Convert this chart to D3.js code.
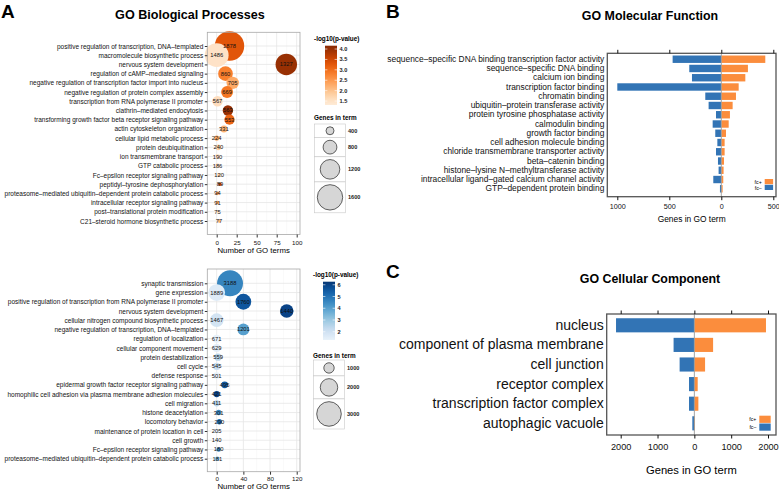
<!DOCTYPE html>
<html>
<head>
<meta charset="utf-8">
<script src="https://cdn.jsdelivr.net/npm/d3@7"></script>
<style>
body{margin:0;background:#fff;}
text{font-family:"Liberation Sans",Arial,Helvetica,sans-serif;}
</style>
</head>
<body>
<div id="canvas"></div>
<script>
// ---- panel A, upper: GO biological processes (orange) ----
var bpUpTerms = ["positive regulation of transcription, DNA–templated","macromolecule biosynthetic process","nervous system development","regulation of cAMP–mediated signaling","negative regulation of transcription factor import into nucleus","negative regulation of protein complex assembly","transcription from RNA polymerase II promoter","clathrin–mediated endocytosis","transforming growth factor beta receptor signaling pathway","actin cytoskeleton organization","cellular lipid metabolic process","protein deubiquitination","ion transmembrane transport","GTP catabolic process","Fc–epsilon receptor signaling pathway","peptidyl–tyrosine dephosphorylation","proteasome–mediated ubiquitin–dependent protein catabolic process","intracellular receptor signaling pathway","post–translational protein modification","C21–steroid hormone biosynthetic process"];
var bpUpNum = [16, 0, 87, 11, 20, 13, 1, 14, 16, 9, 0, 2, 1, 1, 3, 4, 1, 1, 1, 3];
var bpUpGenes = [1878, 1486, 1327, 860, 705, 669, 567, 563, 553, 331, 224, 240, 190, 186, 120, 89, 94, 91, 75, 77];
var bpUpP = [3.3, 1.5, 4.0, 2.8, 2.3, 2.9, 1.6, 4.0, 3.1, 2.2, 2.3, 1.8, 1.5, 1.5, 1.8, 3.5, 2.5, 2.4, 1.6, 2.2];
var bpUpTicks = [0, 25, 50, 75, 100];
var bpUpColorTicks = [1.5, 2.0, 2.5, 3.0, 3.5, 4.0];
var bpUpSizeKeys = [400, 800, 1200, 1600];

// ---- panel A, lower: GO biological processes (blue) ----
var bpDnTerms = ["synaptic transmission","gene expression","positive regulation of transcription from RNA polymerase II promoter","nervous system development","cellular nitrogen compound biosynthetic process","negative regulation of transcription, DNA–templated","regulation of localization","cellular component movement","protein destabilization","cell cycle","defense response","epidermal growth factor receptor signaling pathway","homophilic cell adhesion via plasma membrane adhesion molecules","cell migration","histone deacetylation","locomotory behavior","maintenance of protein location in cell","cell growth","Fc–epsilon receptor signaling pathway","proteasome–mediated ubiquitin–dependent protein catabolic process"];
var bpDnNum = [20, 0, 40, 105, 0, 40, 0, 0, 2, 0, 0, 12, 0, 0, 3, 4, 0, 0, 3, 1];
var bpDnGenes = [3188, 1889, 1760, 1440, 1467, 1201, 671, 629, 559, 545, 501, 495, 421, 411, 301, 290, 205, 140, 180, 181];
var bpDnP = [4.6, 1.6, 5.6, 6.0, 1.9, 4.0, 1.3, 1.5, 2.5, 2.2, 1.3, 5.5, 6.0, 2.5, 4.5, 5.0, 1.5, 1.3, 4.5, 3.5];
var bpDnTicks = [0, 40, 80, 120];
var bpDnColorTicks = [2, 3, 4, 5, 6];
var bpDnSizeKeys = [1000, 2000, 3000];

// ---- panel B: GO molecular function ----
var mfTerms = ["sequence–specific DNA binding transcription factor activity","sequence–specific DNA binding","calcium ion binding","transcription factor binding","chromatin binding","ubiquitin–protein transferase activity","protein tyrosine phosphatase activity","calmodulin binding","growth factor binding","cell adhesion molecule binding","chloride transmembrane transporter activity","beta–catenin binding","histone–lysine N–methyltransferase activity","intracellular ligand–gated calcium channel activity","GTP–dependent protein binding"];
var mfDown = [468, 308, 282, 1000, 154, 122, 51, 83, 58, 38, 51, 32, 26, 77, 13];
var mfUp = [423, 256, 231, 167, 141, 109, 83, 71, 45, 32, 32, 26, 22, 19, 13];
var mfTicks = [-1000, -500, 0, 500];

// ---- panel C: GO cellular component ----
var ccTerms = ["nucleus","component of plasma membrane","cell junction","receptor complex","transcription factor complex","autophagic vacuole"];
var ccDown = [2127, 564, 400, 145, 145, 55];
var ccUp = [1945, 509, 291, 91, 109, 18];
var ccTicks = [-2000, -1000, 0, 1000, 2000];

var fcLabels = ["fc+", "fc–"];
var BLUE = "#3274b5";
var ORANGE = "#fb8d3d";

var W = 779, H = 490;
var svg = d3.select("#canvas").append("svg")
	.attr("width", W)
	.attr("height", H);

svg.append("rect").attr("width", W).attr("height", H).attr("fill", "#fff");

// panel letters
[["A", 1, 18], ["B", 386, 18], ["C", 386, 278]].forEach(function(p){
	svg.append("text")
		.attr("x", p[1]).attr("y", p[2])
		.attr("font-size", 19).attr("font-weight", "bold")
		.text(p[0]);
});

svg.append("text")
	.attr("x", 190).attr("y", 19)
	.attr("text-anchor", "middle")
	.attr("font-size", 12.6).attr("font-weight", "bold")
	.text("GO Biological Processes");

function bubblePanel(o){
	var g = svg.append("g");
	var x = d3.scaleLinear().domain([o.ticks[0], o.ticks[1]]).range([216.7, o.tickStep + 216.7]);
	var y = d3.scalePoint().domain(o.terms).range(o.yRange);
	var r = d3.scaleLinear().domain(o.rDomain).range(o.rRange);
	var rr = function(v){ return Math.max(1.4, r(v)); };
	var color = d3.scaleSequential(o.interp).domain(o.cDomain);
	var f = o.frame;

	g.append("rect")
		.attr("x", f.x0).attr("y", f.y0)
		.attr("width", f.x1 - f.x0).attr("height", f.y1 - f.y0)
		.attr("fill", "#fff");

	var step = o.ticks[1] - o.ticks[0];
	var minor = o.ticks.map(function(t){ return t + step / 2; })
		.filter(function(t){ return x(t) < f.x1; });
	g.selectAll(".minor").data(minor).enter().append("line")
		.attr("x1", x).attr("x2", x).attr("y1", f.y0).attr("y2", f.y1)
		.attr("stroke", "#f3f3f3").attr("stroke-width", 0.5);
	g.selectAll(".major").data(o.ticks.filter(function(t){ return x(t) < f.x1; })).enter().append("line")
		.attr("x1", x).attr("x2", x).attr("y1", f.y0).attr("y2", f.y1)
		.attr("stroke", "#e6e6e6").attr("stroke-width", 0.8);
	g.selectAll(".hrow").data(o.terms).enter().append("line")
		.attr("x1", f.x0).attr("x2", f.x1)
		.attr("y1", function(d){ return y(d); }).attr("y2", function(d){ return y(d); })
		.attr("stroke", "#e6e6e6").attr("stroke-width", 0.8);

	var rows = o.terms.map(function(t, i){
		return {term: t, n: o.num[i], genes: o.genes[i], p: o.p[i]};
	});

	g.selectAll(".bub").data(rows).enter().append("circle")
		.attr("cx", function(d){ return x(d.n); })
		.attr("cy", function(d){ return y(d.term); })
		.attr("r", function(d){ return rr(d.genes); })
		.attr("fill", function(d){ return color(d.p); });

	g.selectAll(".blab").data(rows).enter().append("text")
		.attr("x", function(d){ return x(d.n); })
		.attr("y", function(d){ return y(d.term) + 2; })
		.attr("text-anchor", "middle")
		.attr("font-size", 5.8)
		.attr("fill", "#111")
		.text(function(d){ return d.genes; });

	g.append("rect")
		.attr("x", f.x0).attr("y", f.y0)
		.attr("width", f.x1 - f.x0).attr("height", f.y1 - f.y0)
		.attr("fill", "none").attr("stroke", "#a8a8a8").attr("stroke-width", 0.8);

	var yAxis = g.append("g")
		.attr("transform", "translate(" + f.x0 + ",0)")
		.call(d3.axisLeft(y).tickSize(2.5).tickPadding(1.5));
	yAxis.select(".domain").remove();
	yAxis.selectAll("line").attr("stroke", "#333");
	yAxis.selectAll("text").attr("font-size", 6.5).attr("fill", "#111")
		.attr("font-family", "'Liberation Sans', Arial, sans-serif");

	var xAxis = g.append("g")
		.attr("transform", "translate(0," + f.y1 + ")")
		.call(d3.axisBottom(x).tickValues(o.ticks).tickSize(3).tickPadding(o.tickPad));
	xAxis.select(".domain").remove();
	xAxis.selectAll("line").attr("stroke", "#333");
	xAxis.selectAll("text").attr("font-size", 6.2).attr("fill", "#111")
		.attr("font-family", "'Liberation Sans', Arial, sans-serif");

	g.append("text")
		.attr("x", (f.x0 + f.x1) / 2).attr("y", o.titleY)
		.attr("text-anchor", "middle").attr("font-size", 7.8)
		.text("Number of GO terms");

	// colour legend
	var L = o.legend;
	g.append("text")
		.attr("x", L.x).attr("y", L.titleY)
		.attr("font-size", 6.4).attr("font-weight", "bold")
		.text("-log10(p-value)");
	var gradId = "grad" + o.id;
	var grad = svg.append("defs").append("linearGradient")
		.attr("id", gradId)
		.attr("x1", 0).attr("y1", 1).attr("x2", 0).attr("y2", 0);
	d3.range(0, 1.0001, 0.1).forEach(function(t){
		grad.append("stop")
			.attr("offset", t)
			.attr("stop-color", color(L.barDomain[0] + t * (L.barDomain[1] - L.barDomain[0])));
	});
	var cy = d3.scaleLinear().domain(L.barDomain).range([L.barY1, L.barY0]);
	g.append("rect")
		.attr("x", L.barX).attr("y", L.barY0)
		.attr("width", 12).attr("height", L.barY1 - L.barY0)
		.attr("fill", "url(#" + gradId + ")");
	g.selectAll(".ctick").data(o.colorTicks).enter().append("g")
		.each(function(d){
			var sel = d3.select(this);
			sel.append("line")
				.attr("x1", L.barX).attr("x2", L.barX + 2.4)
				.attr("y1", cy(d)).attr("y2", cy(d))
				.attr("stroke", "#fff").attr("stroke-width", 0.6);
			sel.append("line")
				.attr("x1", L.barX + 9.6).attr("x2", L.barX + 12)
				.attr("y1", cy(d)).attr("y2", cy(d))
				.attr("stroke", "#fff").attr("stroke-width", 0.6);
			sel.append("text")
				.attr("x", L.barX + 14.5).attr("y", cy(d) + 2)
				.attr("font-size", 5.6).attr("font-weight", "bold").attr("fill", "#222")
				.text(o.colorFmt(d));
		});

	// size legend
	g.append("text")
		.attr("x", L.x).attr("y", L.sizeTitleY)
		.attr("font-size", 6.4).attr("font-weight", "bold")
		.text("Genes in term");
	var ky = L.keyY0;
	o.sizeKeys.forEach(function(k){
		var h = Math.max(10, 2 * r(k) + 5.5);
		g.append("rect")
			.attr("x", L.x + 0.5).attr("y", ky)
			.attr("width", 31).attr("height", h)
			.attr("fill", "#fff").attr("stroke", "#c8c8c8").attr("stroke-width", 0.6);
		g.append("circle")
			.attr("cx", L.x + 16).attr("cy", ky + h / 2)
			.attr("r", r(k))
			.attr("fill", "#d6d6d6").attr("stroke", "#222").attr("stroke-width", 0.7);
		g.append("text")
			.attr("x", L.x + 34).attr("y", ky + h / 2 + 2)
			.attr("font-size", 5.6).attr("font-weight", "bold").attr("fill", "#222")
			.text(k);
		ky += h;
	});
}

bubblePanel({
	id: "up",
	terms: bpUpTerms, num: bpUpNum, genes: bpUpGenes, p: bpUpP,
	ticks: bpUpTicks, tickStep: 20, tickPad: 2.8,
	frame: {x0: 207.3, x1: 300, y0: 32.3, y1: 234.5},
	yRange: [46, 221],
	rDomain: [400, 1600], rRange: [4, 12.7],
	interp: d3.interpolateOranges, cDomain: [1.05, 4.25],
	titleY: 253,
	colorTicks: bpUpColorTicks, colorFmt: d3.format(".1f"),
	sizeKeys: bpUpSizeKeys,
	legend: {x: 314, titleY: 40.5, barX: 325, barY0: 45.7, barY1: 105, barDomain: [1.31, 4.16],
		sizeTitleY: 120, keyY0: 124}
});

bubblePanel({
	id: "dn",
	terms: bpDnTerms, num: bpDnNum, genes: bpDnGenes, p: bpDnP,
	ticks: bpDnTicks, tickStep: 26.67, tickPad: 2.2,
	frame: {x0: 207.3, x1: 300, y0: 269, y1: 471.7},
	yRange: [283.3, 458.7],
	rDomain: [1000, 3000], rRange: [5.2, 12.3],
	interp: d3.interpolateBlues, cDomain: [0.9, 6.4],
	titleY: 488.5,
	colorTicks: bpDnColorTicks, colorFmt: d3.format("d"),
	sizeKeys: bpDnSizeKeys,
	legend: {x: 313, titleY: 277.3, barX: 323, barY0: 281.7, barY1: 340, barDomain: [1.3, 6.26],
		sizeTitleY: 357.5, keyY0: 360}
});

function barPanel(o){
	var g = svg.append("g");
	var f = o.frame;
	var x = d3.scaleLinear().domain([o.ticks[0], o.ticks[o.ticks.length - 1]]).range(o.xRange);
	var y = d3.scaleBand().domain(o.terms).range(o.yRange).paddingInner(o.pad).paddingOuter(o.outer);

	g.append("text")
		.attr("x", 650).attr("y", o.titleY)
		.attr("text-anchor", "middle")
		.attr("font-size", 12.4).attr("font-weight", "bold")
		.text(o.title);

	var rows = o.terms.map(function(t, i){ return {term: t, dn: o.down[i], up: o.up[i]}; });

	g.selectAll(".dn").data(rows).enter().append("rect")
		.attr("x", function(d){ return x(-d.dn); })
		.attr("y", function(d){ return y(d.term); })
		.attr("width", function(d){ return x(0) - x(-d.dn); })
		.attr("height", y.bandwidth())
		.attr("fill", BLUE);
	g.selectAll(".up").data(rows).enter().append("rect")
		.attr("x", x(0))
		.attr("y", function(d){ return y(d.term); })
		.attr("width", function(d){ return x(d.up) - x(0); })
		.attr("height", y.bandwidth())
		.attr("fill", ORANGE);

	g.append("line")
		.attr("x1", x(0)).attr("x2", x(0)).attr("y1", f.y0).attr("y2", f.y1)
		.attr("stroke", "#9a9a9a").attr("stroke-width", 0.9);

	g.append("rect")
		.attr("x", f.x0).attr("y", f.y0)
		.attr("width", f.x1 - f.x0).attr("height", f.y1 - f.y0)
		.attr("fill", "none").attr("stroke", "#555").attr("stroke-width", 1.3);

	var top = g.append("g").attr("transform", "translate(0," + f.y0 + ")")
		.call(d3.axisTop(x).tickValues(o.ticks).tickSize(3.5).tickFormat(""));
	top.select(".domain").remove();
	top.selectAll("line").attr("stroke", "#111").attr("stroke-width", 1);

	var bot = g.append("g").attr("transform", "translate(0," + f.y1 + ")")
		.call(d3.axisBottom(x).tickValues(o.ticks).tickSize(3.5).tickPadding(o.tickPad)
			.tickFormat(function(d){ return Math.abs(d); }));
	bot.select(".domain").remove();
	bot.selectAll("line").attr("stroke", "#111").attr("stroke-width", 1);
	bot.selectAll("text").attr("font-size", o.tickFont).attr("fill", "#111")
		.attr("font-family", "'Liberation Sans', Arial, sans-serif");

	g.append("text")
		.attr("x", (f.x0 + f.x1) / 2).attr("y", o.axisTitleY)
		.attr("text-anchor", "middle").attr("font-size", o.axisTitleFont)
		.text("Genes in GO term");

	var left = g.append("g").attr("transform", "translate(" + f.x0 + ",0)")
		.call(d3.axisLeft(y).tickSize(0).tickPadding(3));
	left.select(".domain").remove();
	left.selectAll("text").attr("font-size", o.labelFont).attr("fill", "#111")
		.attr("font-family", "'Liberation Sans', Arial, sans-serif");

	// key
	var k = o.key;
	[ORANGE, BLUE].forEach(function(c, i){
		g.append("rect")
			.attr("x", k.x).attr("y", k.y + i * k.h)
			.attr("width", k.w).attr("height", k.h - 0.6)
			.attr("fill", c);
		g.append("text")
			.attr("x", k.x - 3).attr("y", k.y + i * k.h + k.h * 0.5 + 1.8)
			.attr("text-anchor", "end")
			.attr("font-size", 5.2)
			.text(fcLabels[i]);
	});
}

barPanel({
	title: "GO Molecular Function", titleY: 20,
	terms: mfTerms, down: mfDown, up: mfUp, ticks: mfTicks,
	frame: {x0: 607.3, x1: 776, y0: 53.3, y1: 196.7},
	xRange: [617.3, 773.3],
	yRange: [54.6, 193.4], pad: 0.2, outer: 0.1,
	tickPad: 3.5, tickFont: 7.2, axisTitleY: 221.5, axisTitleFont: 8.4,
	labelFont: 8.4,
	key: {x: 764.7, y: 179, w: 8.4, h: 5.8}
});

barPanel({
	title: "GO Cellular Component", titleY: 283,
	terms: ccTerms, down: ccDown, up: ccUp, ticks: ccTicks,
	frame: {x0: 606.7, x1: 776, y0: 314, y1: 435},
	xRange: [620.7, 768],
	yRange: [315.5, 433.1], pad: 0.28, outer: 0.14,
	tickPad: 5, tickFont: 9.2, axisTitleY: 474, axisTitleFont: 11.2,
	labelFont: 14,
	key: {x: 759.3, y: 415.7, w: 11.4, h: 7.8}
});
</script>
</body>
</html>
